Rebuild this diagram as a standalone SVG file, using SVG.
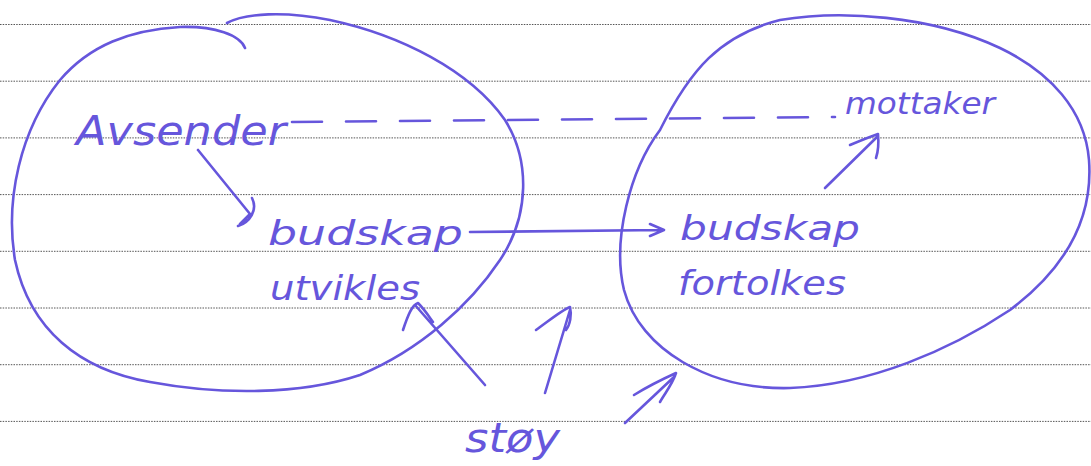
<svg xmlns="http://www.w3.org/2000/svg" width="1091" height="466" viewBox="0 0 1091 466">
<style>
.rule{stroke:#555;stroke-width:1;stroke-dasharray:1.5 1.2;fill:none}
.ink{stroke:#6656dc;stroke-width:2.6;fill:none;stroke-linecap:round;stroke-linejoin:round}
.hand{font-family:"DejaVu Sans",sans-serif;font-style:oblique;fill:#6656dc}
</style>
<rect width="1091" height="466" fill="#ffffff"/>
<g id="paper">
<line class="rule" x1="0" y1="24.5" x2="1091" y2="24.5"/>
<line class="rule" x1="0" y1="81.2" x2="1091" y2="81.2"/>
<line class="rule" x1="0" y1="137.9" x2="1091" y2="137.9"/>
<line class="rule" x1="0" y1="194.6" x2="1091" y2="194.6"/>
<line class="rule" x1="0" y1="251.3" x2="1091" y2="251.3"/>
<line class="rule" x1="0" y1="308" x2="1091" y2="308"/>
<line class="rule" x1="0" y1="364.7" x2="1091" y2="364.7"/>
<line class="rule" x1="0" y1="421.4" x2="1091" y2="421.4"/>
</g>
<g id="sender-circle">
<path class="ink" d="M227,23 C245,13 285,11 330,20 C400,35 470,70 505,120 C530,160 530,215 500,260 C470,305 420,350 360,375 C300,395 220,395 150,382 C80,370 30,330 15,260 C5,200 20,130 60,80 C90,45 130,30 180,27 C215,26 240,35 245,48"/>
</g>
<g id="receiver-circle">
<path class="ink" d="M660,130 C690,70 720,35 780,20 C840,10 930,15 1000,48 C1050,72 1085,110 1089,160 C1093,215 1070,265 1010,310 C950,350 870,385 790,388 C710,390 640,350 624,290 C612,240 630,170 660,130"/>
</g>
<g id="avsender">
<text class="hand" x="76" y="145" font-size="40" textLength="210" lengthAdjust="spacingAndGlyphs">Avsender</text>
</g>
<g id="mottaker">
<text class="hand" x="845" y="114" font-size="30" textLength="150" lengthAdjust="spacingAndGlyphs">mottaker</text>
</g>
<g id="budskap-utvikles">
<text class="hand" x="268" y="245" font-size="34" textLength="195" lengthAdjust="spacingAndGlyphs">budskap</text>
<text class="hand" x="270" y="300" font-size="34" textLength="150" lengthAdjust="spacingAndGlyphs">utvikles</text>
</g>
<g id="budskap-fortolkes">
<text class="hand" x="680" y="240" font-size="34" textLength="180" lengthAdjust="spacingAndGlyphs">budskap</text>
<text class="hand" x="678" y="295" font-size="34" textLength="168" lengthAdjust="spacingAndGlyphs">fortolkes</text>
</g>
<g id="stoy">
<text class="hand" x="465" y="452" font-size="40" textLength="95" lengthAdjust="spacingAndGlyphs">støy</text>
</g>
<g id="connectors">
<path class="ink" stroke-dasharray="30 24" d="M292,122 L835,117"/>
<path class="ink" d="M198,150 L250,214 M252,198 C258,210 250,222 238,226 M250,214 L240,224"/>
<path class="ink" d="M470,232 L662,230 M650,224 L664,230 L650,236"/>
<path class="ink" d="M825,188 L878,136 M850,145 C862,140 872,136 878,134 C879,145 877,155 876,158"/>
<path class="ink" d="M485,385 L415,305 M403,330 C408,315 412,305 418,303 C425,310 430,318 433,322"/>
<path class="ink" d="M545,393 L570,310 M536,330 C550,320 562,310 570,307 C572,315 570,325 566,330"/>
<path class="ink" d="M625,423 L675,376 M634,395 C650,385 665,378 676,373 C672,385 665,393 660,402"/>
</g>
</svg>
